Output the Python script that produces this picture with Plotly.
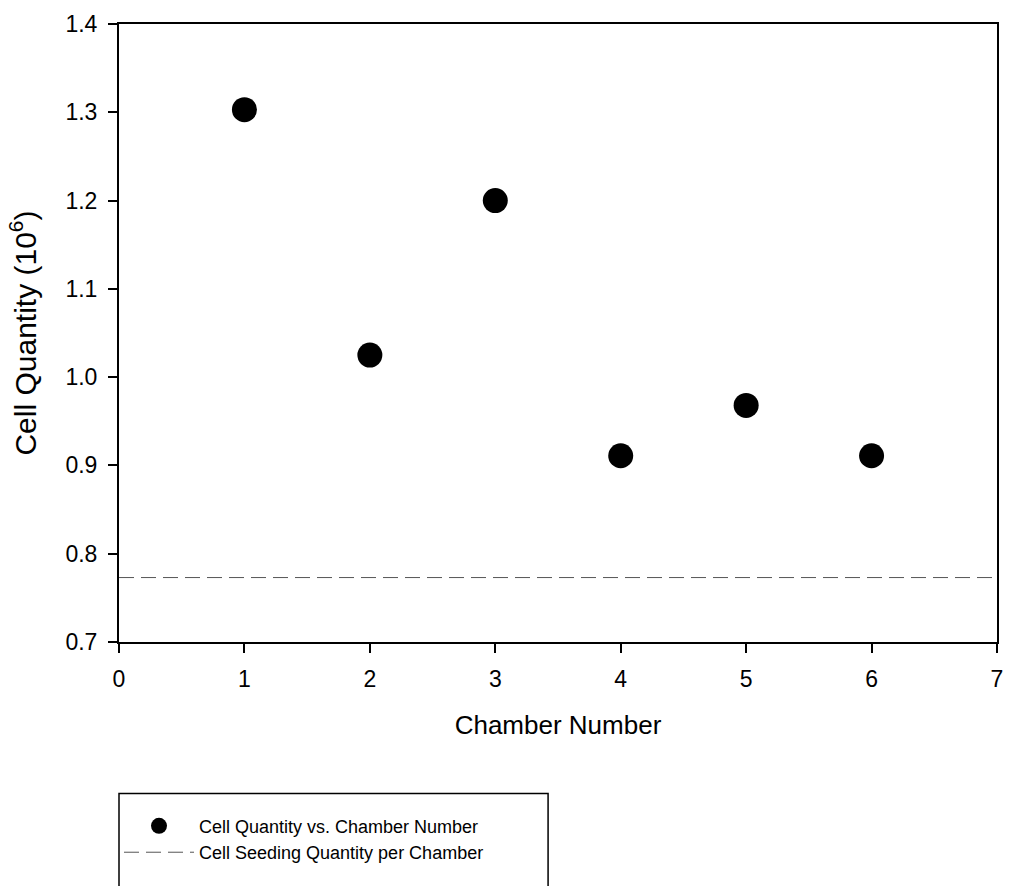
import plotly.graph_objects as go

chambers = [1, 2, 3, 4, 5, 6]
cell_quantity = [1.303, 1.025, 1.200, 0.911, 0.968, 0.911]
seeding_x = [0, 7]
seeding_quantity = [0.773, 0.773]
x_ticks = [0, 1, 2, 3, 4, 5, 6, 7]
y_ticks = [0.7, 0.8, 0.9, 1.0, 1.1, 1.2, 1.3, 1.4]

FONT = "Liberation Sans, Arial, sans-serif"

fig = go.Figure()
fig.add_trace(go.Scatter(
    x=chambers, y=cell_quantity, mode="markers",
    name="Cell Quantity vs. Chamber Number",
    marker=dict(color="black", size=25, line=dict(width=0)),
))
fig.add_trace(go.Scatter(
    x=seeding_x, y=seeding_quantity, mode="lines",
    name="Cell Seeding Quantity per Chamber",
    line=dict(color="#555555", width=1, dash="15px,7px"),
))

def axis_style():
    return dict(
        showgrid=False, zeroline=False, showline=True, linecolor="black",
        linewidth=2, mirror=True, ticks="outside", ticklen=9, tickwidth=1.5,
        tickcolor="black", tickfont=dict(family=FONT, size=23, color="black"),
        ticklabelstandoff=6,
    )

# legend frame (the reference legend box is wider than its text and runs past the bottom edge)
fig.add_shape(type="rect", xref="paper", yref="paper",
              x0=0, x1=0.4887, y0=-0.405, y1=-0.245,
              line=dict(color="black", width=1.5), fillcolor="rgba(0,0,0,0)")

fig.update_layout(
    width=1011, height=886,
    margin=dict(l=119, r=8, t=24, b=244),
    paper_bgcolor="white", plot_bgcolor="white",
    font=dict(family=FONT, color="black"),
    showlegend=True,
    legend=dict(x=0, y=-0.268, xanchor="left", yanchor="top",
                borderwidth=0, bgcolor="rgba(0,0,0,0)",
                font=dict(family=FONT, size=18, color="black"), itemwidth=70,
                tracegroupgap=0),
)
fig.update_xaxes(range=[0, 7], tickvals=x_ticks,
                 title=dict(text="Chamber Number", font=dict(family=FONT, size=26), standoff=25),
                 **axis_style())
fig.update_yaxes(range=[0.7, 1.4], tickvals=y_ticks, tickformat=".1f",
                 title=dict(text="Cell Quantity (10<sup>6</sup>)", font=dict(family=FONT, size=30), standoff=20),
                 **axis_style())

fig.write_html("out.html")
